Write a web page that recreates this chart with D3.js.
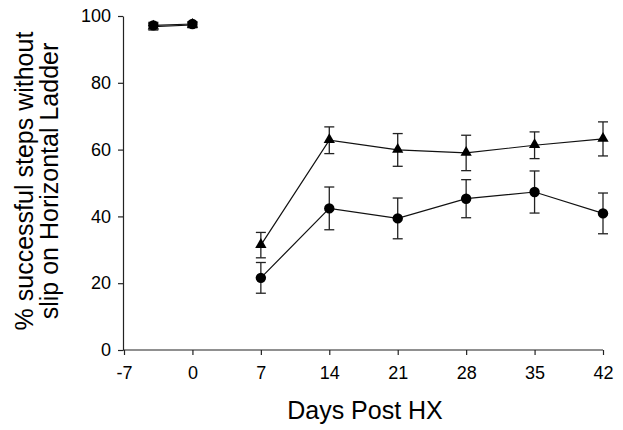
<!DOCTYPE html>
<html>
<head>
<meta charset="utf-8">
<script src="https://cdn.jsdelivr.net/npm/d3@7"></script>
<style>
  body { margin: 0; background: #fff; }
  text { font-family: "Liberation Sans", Arial, sans-serif; fill: #000; }
</style>
</head>
<body>
<div id="chart"></div>
<script>
// Days post HX, split into pre-injury and post-injury segments
const preDays = [-4, 0];
const postDays = [7, 14, 21, 28, 35, 42];

// Triangle series (mean, error)
const triPre = [96.8, 97.3];
const triPreErr = [1.0, 0.8];
const triPost = [31.4, 62.8, 59.9, 59.0, 61.3, 63.2];
const triPostErr = [3.8, 4.0, 4.9, 5.3, 4.0, 5.1];

// Circle series (mean, error)
const cirPre = [97.2, 97.6];
const cirPreErr = [0.9, 0.7];
const cirPost = [21.6, 42.4, 39.4, 45.3, 47.3, 40.9];
const cirPostErr = [4.6, 6.4, 6.1, 5.7, 6.3, 6.1];

const xTicks = [-7, 0, 7, 14, 21, 28, 35, 42];
const yTicks = [0, 20, 40, 60, 80, 100];

const width = 623, height = 430;

const svg = d3.select("#chart").append("svg")
    .attr("width", width)
    .attr("height", height);

const x = d3.scaleLinear().domain([-7, 42]).range([124, 603]);
const y = d3.scaleLinear().domain([0, 100]).range([350, 16]);

// axes
const xAxis = svg.append("g")
    .attr("transform", `translate(0,${y(0)})`)
    .call(d3.axisBottom(x).tickValues(xTicks).tickFormat(d => String(d))
        .tickSize(5).tickPadding(11).tickSizeOuter(0));
xAxis.select(".domain").attr("d", `M${x(-7) - 1},0H${x(42)}`);

const yAxis = svg.append("g")
    .attr("transform", `translate(${x(-7) - 1},0)`)
    .call(d3.axisLeft(y).tickValues(yTicks).tickFormat(d => String(d))
        .tickSize(5).tickPadding(7).tickSizeOuter(0));

svg.selectAll(".tick text").style("font-size", "18px").style("font-family", "'Liberation Sans', Arial, sans-serif");
svg.selectAll(".domain, .tick line").attr("stroke", "#222").attr("stroke-width", 1.2);

// axis titles
svg.append("text")
    .attr("x", 365).attr("y", 419)
    .attr("text-anchor", "middle")
    .style("font-size", "25px")
    .text("Days Post HX");

const yt = svg.append("text")
    .attr("transform", "translate(0,181) rotate(-90)")
    .attr("text-anchor", "middle")
    .style("font-size", "25px");
yt.append("tspan").attr("x", 0).attr("y", 33).text("% successful steps without");
yt.append("tspan").attr("x", 0).attr("y", 58).text("slip on Horizontal Ladder");

const line = d3.line().x(d => x(d.day)).y(d => y(d.v));

function zip(days, vals, errs) {
  return days.map((d, i) => ({ day: d, v: vals[i], e: errs[i] }));
}

const segments = [
  { pts: zip(preDays, triPre, triPreErr), shape: "tri" },
  { pts: zip(preDays, cirPre, cirPreErr), shape: "cir" },
  { pts: zip(postDays, triPost, triPostErr), shape: "tri" },
  { pts: zip(postDays, cirPost, cirPostErr), shape: "cir" }
];

segments.forEach(s => {
  svg.append("path")
      .datum(s.pts)
      .attr("d", line)
      .attr("fill", "none")
      .attr("stroke", "#111")
      .attr("stroke-width", 1.2);

  const eb = svg.append("g");
  s.pts.forEach(p => {
    const cx = x(p.day), t = y(p.v + p.e), b = y(p.v - p.e);
    eb.append("line").attr("x1", cx).attr("x2", cx).attr("y1", t).attr("y2", b);
    eb.append("line").attr("x1", cx - 5).attr("x2", cx + 5).attr("y1", t).attr("y2", t);
    eb.append("line").attr("x1", cx - 5).attr("x2", cx + 5).attr("y1", b).attr("y2", b);
  });
  eb.selectAll("line").attr("stroke", "#222").attr("stroke-width", 1.3);

  const sym = s.shape === "tri"
      ? d3.symbol().type(d3.symbolTriangle).size(55)
      : d3.symbol().type(d3.symbolCircle).size(85);
  svg.append("g").selectAll("path")
      .data(s.pts)
      .join("path")
      .attr("transform", d => `translate(${x(d.day)},${y(d.v) + (s.shape === "tri" ? -0.5 : 0)})`)
      .attr("d", sym)
      .attr("fill", "#000");
});
</script>
</body>
</html>
